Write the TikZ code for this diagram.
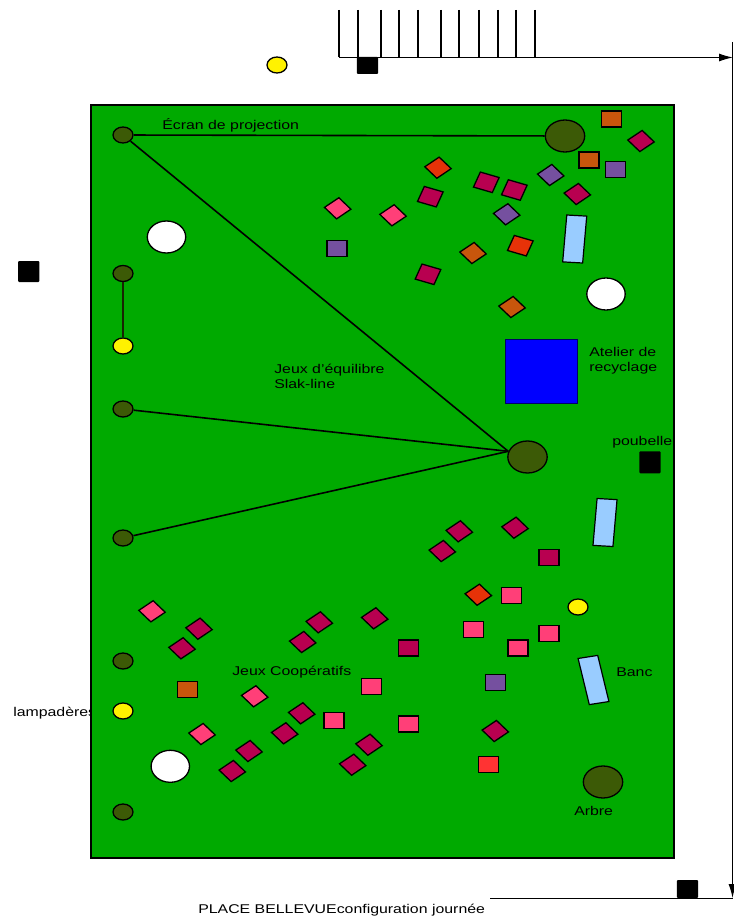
\documentclass[tikz,border=0pt]{standalone}
\usepackage{fontspec}
\setmainfont{Liberation Sans}
\usetikzlibrary{arrows.meta}
\definecolor{herbe}{HTML}{00AA00}
\definecolor{feuillage}{HTML}{3C5A06}
\definecolor{cramoisi}{HTML}{B80050}
\definecolor{rose}{HTML}{FF3F78}
\definecolor{rouille}{HTML}{C8560C}
\definecolor{vif}{HTML}{E63208}
\definecolor{violet}{HTML}{75509F}
\definecolor{bancBleu}{HTML}{99CCFF}
\tikzset{
    tuile/.style={draw, line width=1.3pt, inner sep=0pt, minimum size=16pt, xscale=1.25},
    losange/.style={tuile, minimum size=15pt, rotate=40},
    banc/.style={draw, line width=1.2pt, inner sep=0pt, fill=bancBleu, minimum width=16pt, minimum height=47pt, xscale=1.25},
    poteau/.style={draw, circle, line width=1.3pt, inner sep=0pt, minimum size=16pt, xscale=1.25},
    arbre/.style={draw, circle, line width=1.3pt, inner sep=0pt, minimum size=32pt, xscale=1.23, fill=feuillage},
    blanc/.style={draw, circle, line width=1.3pt, inner sep=0pt, minimum size=32pt, xscale=1.2, fill=white},
    poubelle/.style={fill=black, inner sep=0pt, rounded corners=1pt, minimum width=17pt, minimum height=17pt, xscale=1.25},
    legende/.style={anchor=west, inner sep=0pt, align=left, xscale=1.25, font=\fontsize{12.7}{15}\selectfont},
    cable/.style={line width=1.6pt},
    trait/.style={line width=1.1pt}
}

\begin{document}
\begin{tikzpicture}[x=1pt, y=-1pt]
    \useasboundingbox (0,0) rectangle (733,920);

    % Draw text that the lawn covers
    \node[legende] (lampadaires) at (13,713) {lampadères};

    % Draw lawn
    \draw[line width=1.4pt, fill=herbe] (91,105) rectangle (674,858);

    % Draw street lines
    \foreach \px in {339,358,381,399,418,441,459,479,498,516,535} {
        \coordinate (hautDent) at (\px,10);
        \coordinate (basDent) at (\px,57.5);
        \draw[trait] (hautDent) -- (basDent);
    }
    \coordinate (rueDebut) at (339,57.5);
    \coordinate (rueFin) at (733,57.5);
    \coordinate (bordHaut) at (732.5,42);
    \coordinate (bordBas) at (732.5,898);
    \coordinate (basDebut) at (490,898.5);
    \coordinate (basFin) at (733,898.5);
    \draw[trait, -{Latex[length=14pt,width=8pt]}] (rueDebut) -- (rueFin);
    \draw[trait, -{Latex[length=14pt,width=8pt]}] (bordHaut) -- (bordBas);
    \draw[trait] (basDebut) -- (basFin);

    % Draw cables
    \node[arbre] (arbreHaut) at (565,136) {};
    \node[arbre] (arbreMilieu) at (527.5,457) {};
    \node[arbre] (arbreBas) at (603,782) {};
    \node[poteau, fill=feuillage] (poteauA) at (123,135) {};
    \node[poteau, fill=feuillage] (poteauB) at (123,273.5) {};
    \node[poteau, fill=yellow] (poteauC) at (123,346) {};
    \node[poteau, fill=feuillage] (poteauD) at (123,409) {};
    \node[poteau, fill=feuillage] (poteauE) at (123,538) {};
    \node[poteau, fill=feuillage] (poteauF) at (123,661) {};
    \node[poteau, fill=yellow] (poteauG) at (123,711) {};
    \node[poteau, fill=feuillage] (poteauH) at (123,812) {};
    \node[poteau, fill=yellow] (poteauI) at (277,65) {};
    \node[poteau, fill=yellow] (poteauJ) at (578,607) {};

    \draw[cable] (poteauA) -- (arbreHaut);
    \draw[cable, black!60!feuillage, line width=1.9pt] (poteauB) -- (poteauC);
    \draw[cable] (poteauA) -- (arbreMilieu.160);
    \draw[cable] (poteauD) -- (arbreMilieu.160);
    \draw[cable] (poteauE) -- (arbreMilieu.160);

    % Draw white circles
    \node[blanc] (blancA) at (166.5,237) {};
    \node[blanc] (blancB) at (606,294) {};
    \node[blanc] (blancC) at (170.3,766.3) {};

    % Draw benches
    \node[banc, rotate=-4] (bancA) at (574.7,239) {};
    \node[banc, rotate=-4] (bancB) at (605,522.5) {};
    \node[banc, rotate=11] (bancC) at (593.5,680) {};

    % Draw workshop and black squares
    \node[draw=blue!40!black, line width=1.2pt, fill=blue, inner sep=0pt, minimum width=72pt, minimum height=64pt] (atelier) at (541.3,371.7) {};
    \node[poubelle, minimum height=21pt] (poubelleA) at (28.7,271.5) {};
    \node[poubelle] (poubelleB) at (367.5,65.5) {};
    \node[poubelle, minimum height=22pt] (poubelleC) at (650,462.3) {};
    \node[poubelle, minimum height=18pt] (poubelleD) at (687.5,889) {};

    % Draw crimson tiles
    \foreach \px/\py in {641/141, 577.3/194, 459.3/531.3, 442.3/551, 515/527.7, 495.3/731,
                         199/628.7, 182/648.3, 319.3/622.3, 302.7/642, 374.7/618.3,
                         301.7/713.3, 284.7/733.3, 249/751, 232.3/771, 369/744.7, 352.7/764.7} {
        \node[losange, fill=cramoisi] at (\px,\py) {};
    }
    \foreach \px/\py in {514.3/190, 486.3/182.3, 430.3/196.7, 428/274.3} {
        \node[tuile, fill=cramoisi, rotate=-20] at (\px,\py) {};
    }
    \node[tuile, fill=cramoisi] (tuileA) at (549,557.3) {};
    \node[tuile, fill=cramoisi] (tuileB) at (408.7,648) {};

    % Draw pink tiles
    \foreach \px/\py in {337.7/208.3, 393/215.3, 152/611.3, 254.7/696.3, 202/734} {
        \node[losange, fill=rose] at (\px,\py) {};
    }
    \foreach \px/\py in {371.3/686.3, 334/720.3, 408.7/724, 511.7/595.3, 473.7/629.7, 549/633.3, 518/648} {
        \node[tuile, fill=rose] at (\px,\py) {};
    }

    % Draw orange tiles
    \foreach \px/\py in {473/253, 512/307} {
        \node[losange, fill=rouille] at (\px,\py) {};
    }
    \foreach \px/\py in {611.7/119, 589/160, 187.3/689.3} {
        \node[tuile, fill=rouille] at (\px,\py) {};
    }

    % Draw purple tiles
    \foreach \px/\py in {550.7/175, 506.7/214.3} {
        \node[losange, fill=violet] at (\px,\py) {};
    }
    \foreach \px/\py in {615.3/169.7, 337/248.3, 495.7/682.7} {
        \node[tuile, fill=violet] at (\px,\py) {};
    }

    % Draw red tiles
    \node[losange, fill=vif] (tuileC) at (438,167.7) {};
    \node[losange, fill=vif] (tuileD) at (478.3,594.7) {};
    \node[tuile, fill=vif, rotate=-20] (tuileE) at (520.3,245.7) {};
    \node[tuile, fill=red!80!white] (tuileF) at (488.3,764.7) {};

    % Draw labels
    \node[legende] (ecran) at (162,125) {Écran de projection};
    \node[legende] (equilibre) at (274,376) {Jeux d'équilibre\\Slak-line};
    \node[legende] (recyclage) at (589,360.5) {Atelier de\\recyclage};
    \node[legende] (poubelleTexte) at (612,442) {poubelle};
    \node[legende] (bancTexte) at (616,672) {Banc};
    \node[legende] (cooperatifs) at (232,672) {Jeux Coopératifs};
    \node[legende] (arbreTexte) at (574,811) {Arbre};
    \node[legende] (titre) at (198,910) {PLACE BELLEVUEconfiguration journée};

\end{tikzpicture}
\end{document}
